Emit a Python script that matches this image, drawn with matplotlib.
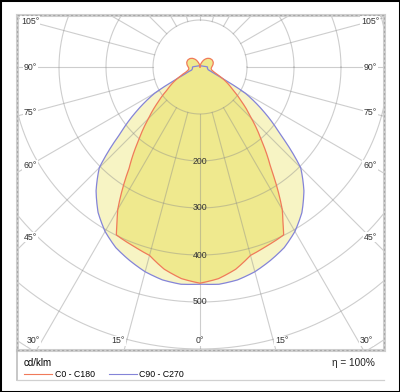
import numpy as np
import matplotlib
matplotlib.use("Agg")
import matplotlib.pyplot as plt
from matplotlib.patches import Rectangle
from matplotlib.lines import Line2D

plt.rcParams['font.family'] = ['Liberation Sans', 'DejaVu Sans']

# Işık dağılımı verileri (gamma açısı, 0 = aşağı; değerler cd/klm)
angles_c0 = [0, 5, 10, 15, 20, 25, 26.5, 28, 30, 35, 40, 45, 50, 55, 60, 65, 70, 75, 80, 85, 90,
             100, 110, 120, 130, 140, 150, 160, 170, 180]
values_c0 = [460, 452, 437, 415, 407, 401, 399, 376, 350, 263, 203, 155, 117, 86, 66, 46, 32, 26, 24, 24, 25,
             28, 30, 30, 28, 24, 18, 10, 4, 0]

angles_c90 = [0, 5, 10, 15, 20, 25, 30, 35, 40, 45, 50, 55, 60, 62.5, 65, 70, 75, 80, 85, 90,
              95, 100, 120, 150, 180]
values_c90 = [462, 464, 460, 451, 438, 424, 404, 378, 344, 303, 223, 166, 111, 60, 35, 19, 17, 16, 16, 16,
              12, 8, 4, 3, 3]

ring_values = [100, 200, 300, 400, 500, 600, 700, 800, 900]
ring_labels = [200, 300, 400, 500]
side_angles = [105, 90, 75, 60, 45]
bottom_angles = [30, 15, 0]
labels_legend = ['C0 - C180', 'C90 - C270']
eta_text = 'η = 100%'
unit_text = 'cd/klm'


def to_xy(angles, values):
    # açı ekseninde sık örnekleme, sonra iki yarıyı birleştir
    g = np.linspace(0, 180, 721)
    r = np.interp(g, angles, values)
    a = np.radians(g)
    x = np.concatenate([-r[::-1] * np.sin(a[::-1]), r[1:] * np.sin(a[1:])])
    y = np.concatenate([-r[::-1] * np.cos(a[::-1]), -r[1:] * np.cos(a[1:])])
    return x, y


W, H = 400, 392
k = 0.47  # piksel / cd/klm
fig = plt.figure(figsize=(W / 100, H / 100), dpi=100)
ax = fig.add_axes([17 / W, 1 - 350 / H, 367 / W, 335 / H])
ax.set_xlim(-183 / k, 184 / k)
ax.set_ylim(-283 / k, 52 / k)
ax.set_xticks([])
ax.set_yticks([])
for s in ax.spines.values():
    s.set_color('#cfcfcf')
    s.set_linewidth(2.2)
ax.add_patch(Rectangle((0, 0), 1, 1, transform=ax.transAxes, fill=False,
                       ec='#a8a8a8', lw=0.8, ls=(0, (2, 2)), zorder=10, clip_on=False))

x90, y90 = to_xy(angles_c90, values_c90)
x0, y0 = to_xy(angles_c0, values_c0)

ax.fill(x90, y90, color='#f7f4c4', zorder=1, lw=0)
ax.fill(x0, y0, color='#efe98e', zorder=1.5, lw=0)

# ızgara: çemberler ve 15 derecelik ışınlar
t = np.linspace(0, 2 * np.pi, 400)
for rv in ring_values:
    ax.plot(rv * np.cos(t), rv * np.sin(t), color='#8a8a8a', alpha=0.42, lw=0.8, zorder=2)
for deg in range(0, 360, 15):
    a = np.radians(deg)
    ax.plot([100 * np.sin(a), 1200 * np.sin(a)], [-100 * np.cos(a), -1200 * np.cos(a)],
            color='#8a8a8a', alpha=0.42, lw=0.8, zorder=2)

l90, = ax.plot(x90, y90, color='#8484d8', lw=0.9, zorder=4)
l0, = ax.plot(x0, y0, color='#f07a5a', lw=0.9, zorder=4.5)

for rv in ring_labels:
    ax.text(0, -rv, str(rv), ha='center', va='center', fontsize=6.3, color='#333333', zorder=6)

lab_box = dict(facecolor='white', edgecolor='none', pad=0.6)
xs = 170 / k
for ang in side_angles:
    a = np.radians(ang)
    yy = -xs * np.cos(a) / np.sin(a)
    for sgn in (-1, 1):
        ax.text(sgn * xs, yy, '%d°' % ang, ha='center', va='center', fontsize=6.3,
                color='#333333', bbox=lab_box, zorder=7)
ys = 274 / k
for ang in bottom_angles:
    a = np.radians(ang)
    xx = ys * np.tan(a) + (18 if ang > 0 else 0)
    for sgn in ((-1, 1) if ang > 0 else (1,)):
        ax.text(sgn * xx, -ys, '%d°' % ang, ha='center', va='center', fontsize=6.3,
                color='#333333', bbox=lab_box, zorder=7)

# alt kısım: lejant ve verim
fig.add_artist(Line2D([17 / W, 17 / W], [1 - 350 / H, 1 - 380 / H], color='#bdbdbd', lw=1.2))
fig.add_artist(Line2D([17 / W, 384 / W], [1 - 380 / H, 1 - 380 / H], color='#d0d0d0', lw=0.9))
leg = fig.legend([l0, l90], labels_legend, loc='upper left', bbox_to_anchor=(18 / W, 1 - 352 / H),
                 ncol=2, frameon=False, title=unit_text, alignment='left', fontsize=6.3,
                 title_fontsize=7, handlelength=3.2, handletextpad=0.3, columnspacing=1.6,
                 borderpad=0.2, labelspacing=0.2)
for h in leg.get_lines():
    h.set_linewidth(0.8)
fig.text(375 / W, 1 - 363 / H, eta_text, ha='right', va='center', fontsize=7.2, color='#222222')

fig.add_artist(Rectangle((0, 0), 1, 1, transform=fig.transFigure, fill=False, ec='black', lw=2.2))

fig.savefig('out.png', dpi=100)
